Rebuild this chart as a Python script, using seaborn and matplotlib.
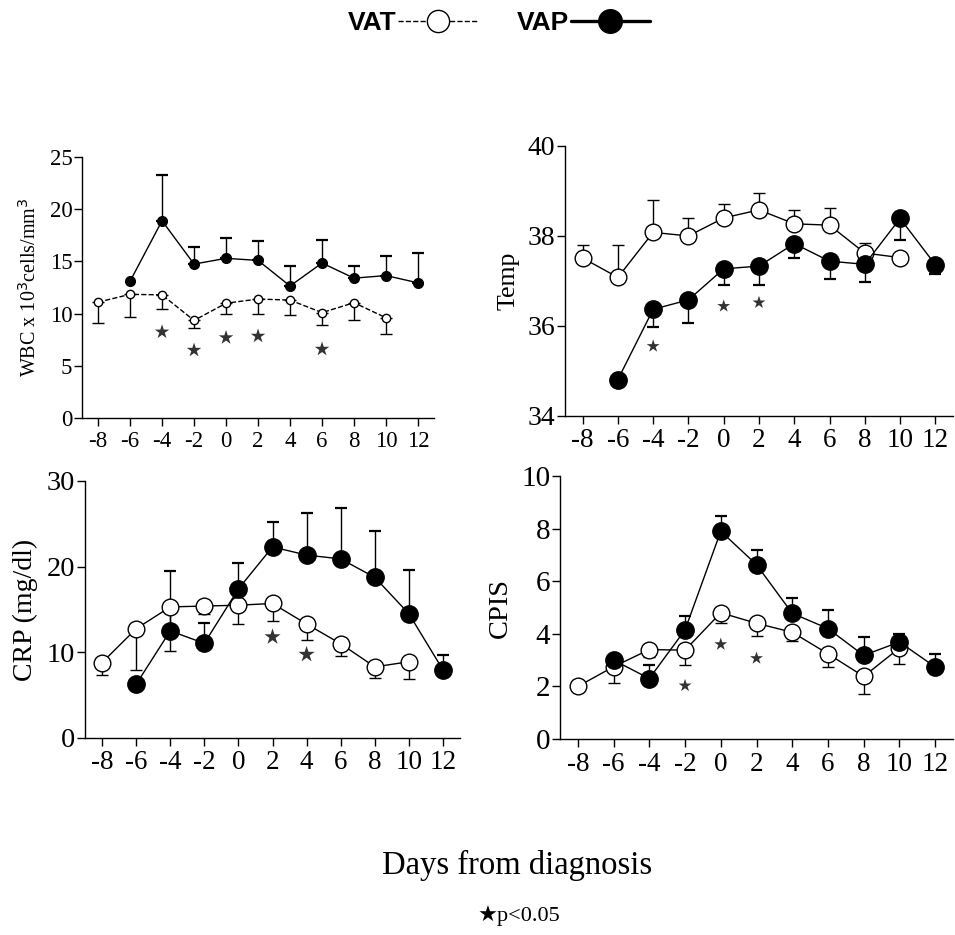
import numpy as np
import pandas as pd
import matplotlib
matplotlib.use("Agg")
import matplotlib.pyplot as plt
from matplotlib.lines import Line2D
import seaborn as sns

nan = np.nan
days = [-8, -6, -4, -2, 0, 2, 4, 6, 8, 10, 12]

# WBC
wbc_vat = [11.1, 11.85, 11.8, 9.35, 11.0, 11.4, 11.3, 10.1, 11.05, 9.6, nan]
wbc_vat_end = [9.1, 9.7, 10.45, 8.6, 10.0, 10.0, 9.85, 8.9, 9.35, 8.05, nan]
wbc_vap = [nan, 13.1, 18.9, 14.75, 15.3, 15.1, 12.65, 14.85, 13.4, 13.65, 12.95]
wbc_vap_end = [nan, nan, 23.3, 16.35, 17.25, 17.0, 14.55, 17.1, 14.55, 15.55, 15.8]
wbc_star_days = [-4, -2, 0, 2, 6]
wbc_star_y = [8.25, 6.5, 7.7, 7.85, 6.6]

# Temperature
temp_vat = [37.51, 37.08, 38.08, 38.0, 38.4, 38.58, 38.27, 38.24, 37.62, 37.52, nan]
temp_vat_end = [37.81, 37.79, 38.79, 38.39, 38.71, 38.96, 38.58, 38.63, 37.85, nan, nan]
temp_vap = [nan, 34.81, 36.37, 36.58, 37.27, 37.33, 37.83, 37.44, 37.37, 38.39, 37.36]
temp_vap_end = [nan, nan, 35.97, 36.07, 36.9, 36.91, 37.52, 37.05, 36.98, 37.92, 37.15]
temp_star_days = [-4, 0, 2]
temp_star_y = [35.55, 36.44, 36.52]

# CRP
crp_vat = [8.8, 12.75, 15.3, 15.4, 15.5, 15.7, 13.3, 11.0, 8.3, 8.9, nan]
crp_vat_end = [7.4, 7.9, 10.1, 14.45, 13.3, 13.7, 11.4, 9.6, 6.95, 6.9, nan]
crp_vap = [nan, 6.27, 12.5, 11.05, 17.4, 22.3, 21.35, 20.9, 18.75, 14.5, 7.95]
crp_vap_end = [nan, nan, 19.5, 13.45, 20.4, 25.25, 26.3, 26.9, 24.15, 19.65, 9.7]
crp_star_days = [2, 4]
crp_star_y = [11.8, 9.75]

# CPIS
cpis_vat = [2.0, 2.75, 3.4, 3.38, 4.8, 4.4, 4.06, 3.24, 2.38, 3.46, nan]
cpis_vat_end = [nan, 2.12, 3.12, 2.83, 4.4, 3.9, 3.71, 2.75, 1.71, 2.86, nan]
cpis_vap = [nan, 3.0, 2.3, 4.15, 7.9, 6.63, 4.78, 4.2, 3.18, 3.69, 2.74]
cpis_vap_end = [nan, nan, 2.81, 4.69, 8.47, 7.2, 5.36, 4.9, 3.87, 3.99, 3.22]
cpis_star_days = [-2, 0, 2]
cpis_star_y = [2.03, 3.6, 3.07]

sns.set_style("ticks")
plt.rcParams['font.family'] = ['Liberation Serif', 'DejaVu Sans']
plt.rcParams['axes.linewidth'] = 1.0
for k in ['text.color', 'axes.labelcolor', 'xtick.color', 'ytick.color', 'axes.edgecolor']:
    plt.rcParams[k] = 'black'

fig = plt.figure(figsize=(9.55, 9.35), dpi=100)

panels = [
    dict(rect=[0.0859, 0.5529, 0.3686, 0.2791], vat=wbc_vat, vat_end=wbc_vat_end,
         vap=wbc_vap, vap_end=wbc_vap_end, sd=wbc_star_days, sy=wbc_star_y,
         ylim=(0, 25), yticks=[0, 5, 10, 15, 20, 25],
         ylabel=r"WBC x 10$^{3}$cells/mm$^{3}$", ylfs=14.5, xtfs=16.5, ytfs=16.5,
         dashed=True, ms_vat=6.0, ms_vap=7.0, star_s=120, cap=4),
    dict(rect=[0.5916, 0.5551, 0.4063, 0.2888], vat=temp_vat, vat_end=temp_vat_end,
         vap=temp_vap, vap_end=temp_vap_end, sd=temp_star_days, sy=temp_star_y,
         ylim=(34, 40), yticks=[34, 36, 38, 40],
         ylabel="Temp", ylfs=18.5, xtfs=19.5, ytfs=20,
         dashed=False, ms_vat=12, ms_vap=12.5, star_s=95, cap=4.5),
    dict(rect=[0.0890, 0.2107, 0.3927, 0.2749], vat=crp_vat, vat_end=crp_vat_end,
         vap=crp_vap, vap_end=crp_vap_end, sd=crp_star_days, sy=crp_star_y,
         ylim=(0, 30), yticks=[0, 10, 20, 30],
         ylabel="CRP (mg/dl)", ylfs=20, xtfs=19.5, ytfs=20.5,
         dashed=False, ms_vat=12, ms_vap=12.5, star_s=150, cap=4.5),
    dict(rect=[0.5864, 0.2096, 0.4115, 0.2813], vat=cpis_vat, vat_end=cpis_vat_end,
         vap=cpis_vap, vap_end=cpis_vap_end, sd=cpis_star_days, sy=cpis_star_y,
         ylim=(0, 10), yticks=[0, 2, 4, 6, 8, 10],
         ylabel="CPIS", ylfs=20.5, xtfs=19.5, ytfs=21,
         dashed=False, ms_vat=12, ms_vap=12.5, star_s=95, cap=4.5),
]

for p in panels:
    ax = fig.add_axes(p['rect'])
    d = np.array(days, dtype=float)
    vat = np.array(p['vat'], dtype=float)
    vat_end = np.array(p['vat_end'], dtype=float)
    vap = np.array(p['vap'], dtype=float)
    vap_end = np.array(p['vap_end'], dtype=float)

    # error bars (one-sided)
    for y, yend, thick in [(vat, vat_end, 1.0), (vap, vap_end, 1.6)]:
        m = ~np.isnan(yend) & ~np.isnan(y)
        lo = np.where(yend[m] < y[m], y[m] - yend[m], 0)
        hi = np.where(yend[m] > y[m], yend[m] - y[m], 0)
        ax.errorbar(d[m], y[m], yerr=[lo, hi], fmt='none', ecolor='black',
                    elinewidth=1.0, capsize=p['cap'], capthick=thick, zorder=1)

    df_vat = pd.DataFrame({'day': d, 'val': vat}).dropna()
    df_vap = pd.DataFrame({'day': d, 'val': vap}).dropna()
    sns.lineplot(data=df_vat, x='day', y='val', ax=ax, estimator=None, color='black',
                 linewidth=1.0, linestyle='--' if p['dashed'] else '-',
                 marker='o', markersize=p['ms_vat'], markerfacecolor='white',
                 markeredgecolor='black', markeredgewidth=1.0, zorder=3)
    sns.lineplot(data=df_vap, x='day', y='val', ax=ax, estimator=None, color='black',
                 linewidth=1.0, linestyle='-',
                 marker='o', markersize=p['ms_vap'], markerfacecolor='black',
                 markeredgecolor='black', markeredgewidth=1.0, zorder=4)
    sns.scatterplot(x=p['sd'], y=p['sy'], ax=ax, marker='*', s=p['star_s'],
                    color='#333333', edgecolor='none', zorder=5)

    ax.set_xlim(-9, 13)
    ax.set_ylim(*p['ylim'])
    ax.set_xticks(days)
    ax.set_xticklabels([str(v) for v in days])
    ax.set_yticks(p['yticks'])
    ax.set_xlabel("")
    ax.set_ylabel(p['ylabel'], fontsize=p['ylfs'], labelpad=6)
    ax.tick_params(axis='both', direction='out', length=6, width=1.0, colors='black')
    ax.tick_params(axis='y', pad=1, labelsize=p['ytfs'])
    ax.tick_params(axis='x', pad=3, labelsize=p['xtfs'])
    for s in ['top', 'right']:
        ax.spines[s].set_visible(False)
    for s in ['left', 'bottom']:
        ax.spines[s].set_color('black')

handles = [
    Line2D([], [], color='black', linestyle='--', linewidth=1.0, marker='o',
           markersize=16, markerfacecolor='white', markeredgecolor='black',
           markeredgewidth=1.0),
    Line2D([], [], color='black', linestyle='-', linewidth=2.4, marker='o',
           markersize=17, markerfacecolor='black', markeredgecolor='black'),
]
leg = fig.legend(handles, ['VAT', 'VAP'], loc='center', bbox_to_anchor=(0.5225, 0.975),
                 ncol=2, frameon=False, markerfirst=False, numpoints=1,
                 handlelength=3.0, handletextpad=0.05, columnspacing=1.5,
                 prop={'family': 'Liberation Sans', 'weight': 'bold', 'size': 19})
for t in leg.get_texts():
    t.set_color('black')

fig.text(0.5415, 0.074, "Days from diagnosis", ha='center', va='center', fontsize=23.5,
         family=['Liberation Serif', 'DejaVu Sans'])
fig.text(0.5435, 0.021, "\u2605p<0.05", ha='center', va='center', fontsize=16,
         family=['Liberation Serif', 'DejaVu Sans'])

fig.savefig("out.png", dpi=100)
